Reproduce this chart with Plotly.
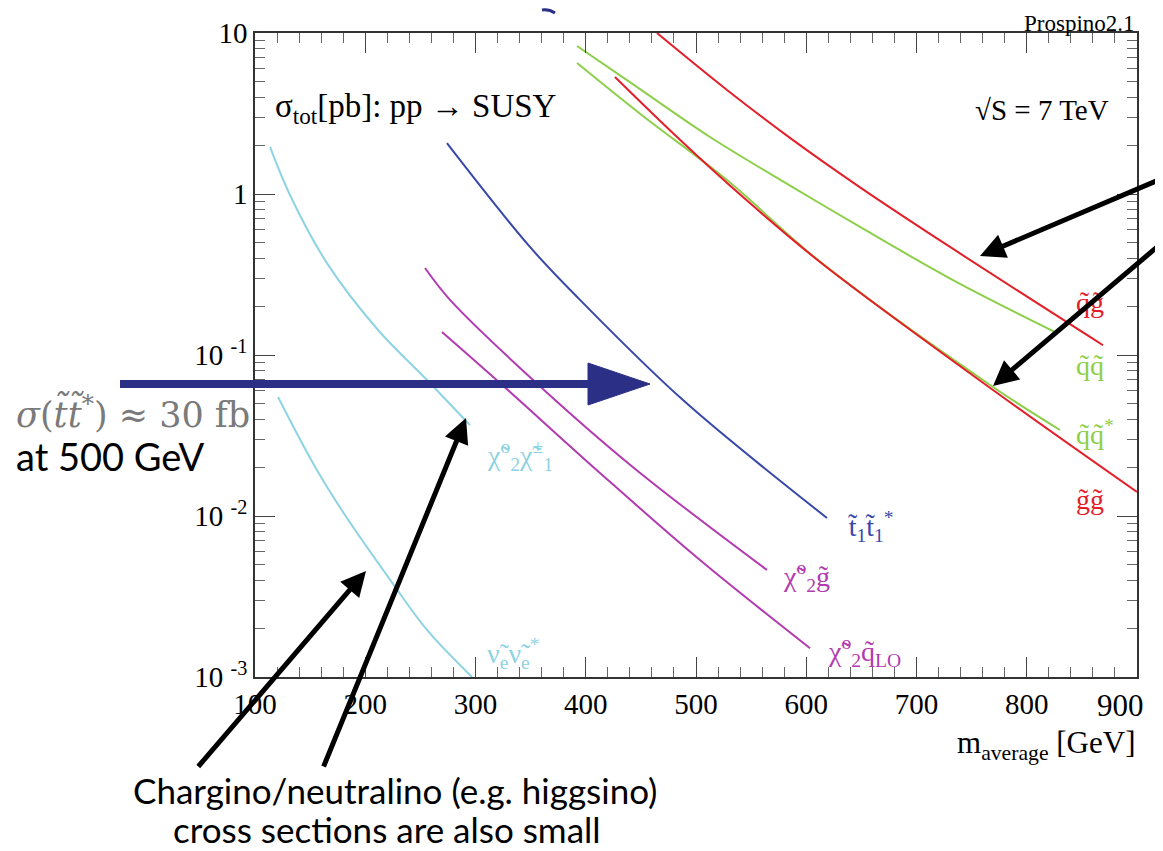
import plotly.graph_objects as go

# ---------------- data ----------------
qg_x = [464.6, 528.1, 588.0, 648.8, 730.4, 869.2]
qg_y = [10.0, 4.43, 2.16, 1.10, 0.469, 0.115]

qq_x = [392.1, 437.4, 512.7, 588.0, 648.8, 733.1, 827.4]
qq_y = [8.30, 5.10, 2.26, 1.10, 0.624, 0.292, 0.137]

qqs_x = [392.1, 451.9, 528.1, 612.5, 769.4, 830.2]
qqs_y = [6.51, 3.05, 1.22, 0.38, 0.0633, 0.0342]

gg_x = [426.5, 482.8, 542.6, 612.5, 769.4, 900.0]
gg_y = [5.33, 2.26, 0.957, 0.378, 0.0606, 0.0141]

tt_x = [274.1, 349.4, 394.8, 488.2, 618.8]
tt_y = [2.07, 0.469, 0.22, 0.0525, 0.00972]

n2g_x = [254.2, 276.9, 352.2, 442.9, 564.4]
n2g_y = [0.347, 0.22, 0.070, 0.0201, 0.00462]

n2q_x = [269.6, 322.2, 412.9, 503.6, 603.4]
n2q_y = [0.139, 0.067, 0.0185, 0.00533, 0.00151]

n2c1_x = [113.6, 131.7, 165.3, 211.6, 256.0, 295.0]
n2c1_y = [1.96, 0.986, 0.372, 0.143, 0.070, 0.0367]

snu_x = [120.9, 152.6, 181.6, 225.2, 256.0, 296.8]
snu_y = [0.0548, 0.0213, 0.01014, 0.00379, 0.00196, 0.001]

x_ticks = [100, 200, 300, 400, 500, 600, 700, 800, 900]
x_ticktext = ["100", "200", "300", "400", "500", "600", "700", "800", ""]  # 900 drawn shifted left
y_ticks = [0.001, 0.01, 0.1, 1, 10]
y_ticktext = ["10 <sup>-3</sup>", "10 <sup>-2</sup>", "10 <sup>-1</sup>", "1", "10"]

RED = "#E3202A"
GREEN = "#8DCF4A"
BLUE = "#3848A8"
MAG = "#B23BB0"
CYAN = "#8ED3E3"
NAVY = "#2B2F86"

series = [
    (qg_x, qg_y, RED), (qq_x, qq_y, GREEN), (qqs_x, qqs_y, GREEN),
    (gg_x, gg_y, RED), (tt_x, tt_y, BLUE), (n2g_x, n2g_y, MAG),
    (n2q_x, n2q_y, MAG), (n2c1_x, n2c1_y, CYAN), (snu_x, snu_y, CYAN),
]

fig = go.Figure()
for xs, ys, c in series:
    fig.add_trace(go.Scatter(x=xs, y=ys, mode="lines",
                             line=dict(color=c, width=2, shape="spline", smoothing=1.0),
                             showlegend=False, hoverinfo="skip"))

SERIF = "Liberation Serif"
SANS = "Lato"

# page offset of the figure (browser body margin)
OFF = 8
W, H = 1163 - OFF, 851 - OFF
# plot area in page pixels: x 255..1137, y 33..677
L, R, T, B = 255, 1137, 33, 677
def px(x):
    return (x - L) / (R - L)
def py(y):
    return (B - y) / (B - T)

ann = []
def txt(x, y, s, size, color="black", xanchor="left", yanchor="middle", font=SERIF):
    ann.append(dict(x=px(x), y=py(y), xref="paper", yref="paper", text=s, showarrow=False,
                    xanchor=xanchor, yanchor=yanchor, font=dict(family=font, size=size, color=color)))

# last x tick label, shifted left as in the reference
txt(1120, 705, str(x_ticks[-1]), 31, xanchor="center")

# curve labels
txt(1074, 302, "q\u0303g\u0303", 28, RED)
txt(1074, 366, "q\u0303q\u0303", 28, GREEN)
txt(1074, 432, "q\u0303q\u0303<sup>*</sup>", 28, GREEN)
txt(1074, 500, "g\u0303g\u0303", 28, RED)
txt(846, 526, "t\u0303<sub>1</sub>t\u0303<sub>1</sub><sup>*</sup>", 28, BLUE)
txt(781, 576, "\u03c7\u0303<sup>o</sup><sub>2</sub>g\u0303", 28, MAG)
txt(826, 651, "\u03c7\u0303<sup>o</sup><sub>2</sub>q\u0303<sub>LO</sub>", 28, MAG)
txt(485, 455, "\u03c7\u0303<sup>o</sup><sub>2</sub>\u03c7\u0303<sup>\u00b1</sup><sub>1</sub>", 28, CYAN)
txt(485, 653, "\u03bd\u0303<sub>e</sub>\u03bd\u0303<sub>e</sub><sup>*</sup>", 28, CYAN)

# plot texts
txt(273, 108, "\u03c3<sub>tot</sub>[pb]: pp \u2192 SUSY", 33)
txt(1111, 110, "\u221aS = 7 TeV", 29, xanchor="right")
txt(1137, 23, "Prospino2.1", 23, xanchor="right")
txt(1137, 745, "m<sub>average</sub> [GeV]", 31, xanchor="right")

# slide overlay texts
txt(14, 412, "<i>\u03c3</i>(<i>t\u0303t\u0303</i><sup>*</sup>) \u2248 30 fb", 35, "#7a7a7a", font="DejaVu Serif")
txt(14, 456, "at 500 GeV", 38, font=SANS)
txt(395, 790, "Chargino/neutralino (e.g. higgsino)", 35, xanchor="center", font=SANS)
txt(387, 829, "cross sections are also small", 35, xanchor="center", font=SANS)

# black arrows (head position, tail position in page pixels)
arrows = [((980, 256), (1165, 178)), ((993, 386), (1165, 242)),
          ((366, 571), (197, 768)), ((466, 418), (323, 768))]
for (hx, hy), (tx, ty) in arrows:
    ann.append(dict(x=px(hx), y=py(hy), xref="paper", yref="paper", showarrow=True,
                    ax=tx - hx, ay=ty - hy, axref="pixel", ayref="pixel", text="",
                    arrowhead=2, arrowsize=1.0, arrowwidth=5, arrowcolor="black"))

shapes = [
    dict(type="line", xref="paper", yref="paper", x0=px(120), x1=px(592), y0=py(384), y1=py(384),
         line=dict(color=NAVY, width=8), layer="above"),
    dict(type="path", xref="paper", yref="paper",
         path=f"M {px(588)} {py(363)} L {px(650)} {py(384)} L {px(588)} {py(405)} Z",
         fillcolor=NAVY, line=dict(color=NAVY, width=1), layer="above"),
    dict(type="path", xref="paper", yref="paper",
         path=f"M {px(542)} {py(10)} Q {px(549)} {py(9)} {px(555)} {py(13)}",
         line=dict(color=NAVY, width=3), layer="above"),
]

fig.update_layout(
    width=W, height=H,
    margin=dict(l=L - OFF, r=W - (R - OFF), t=T - OFF, b=H - (B - OFF), autoexpand=False),
    paper_bgcolor="white", plot_bgcolor="white",
    annotations=ann, shapes=shapes, showlegend=False,
    xaxis=dict(range=[100, 900], tickvals=x_ticks, ticktext=x_ticktext, ticks="inside", ticklen=20,
               tickwidth=1.2, tickcolor="#444", showline=True, linecolor="#333", linewidth=1.5,
               mirror="allticks", showgrid=False, zeroline=False,
               tickfont=dict(family=SERIF, size=29, color="black"),
               minor=dict(ticks="inside", ticklen=10, dtick=20, tick0=100, tickcolor="#666", tickwidth=1,
                          showgrid=False)),
    yaxis=dict(type="log", range=[-3, 1], tickvals=y_ticks, ticktext=y_ticktext, ticks="inside",
               ticklen=20, tickwidth=1.2, tickcolor="#444", showline=True, linecolor="#333",
               linewidth=1.5, mirror="allticks", showgrid=False, zeroline=False,
               tickfont=dict(family=SERIF, size=29, color="black"),
               minor=dict(ticks="inside", ticklen=10, tickcolor="#666", tickwidth=1, showgrid=False,
                          tickmode="array",
                          tickvals=[m * 10 ** e for e in (-3, -2, -1, 0) for m in range(2, 10)])),
)

fig.write_html("out.html")
